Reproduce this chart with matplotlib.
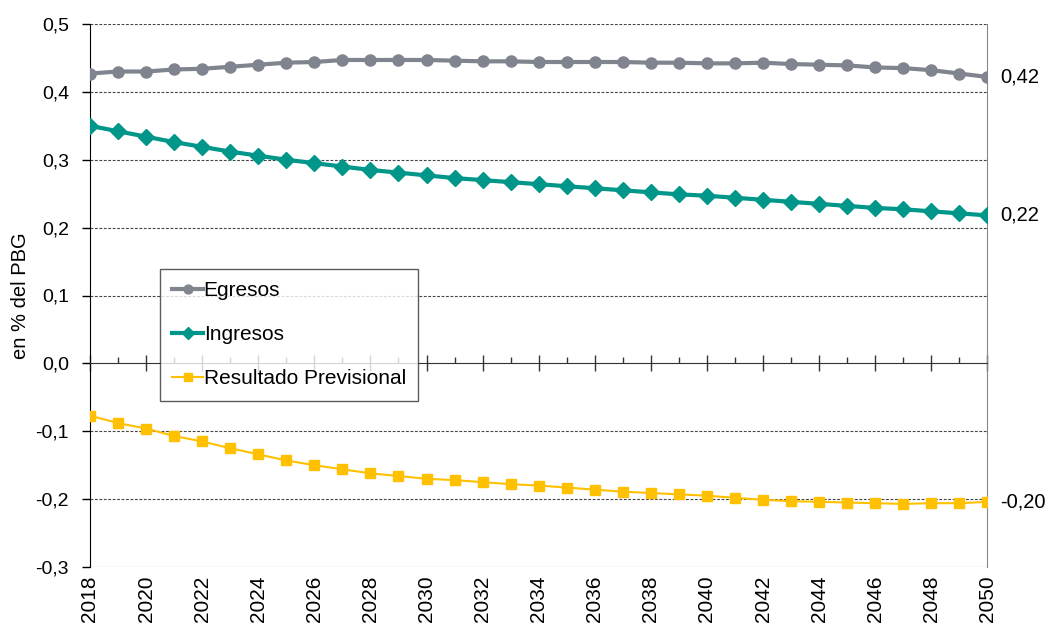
import matplotlib.pyplot as plt
import numpy as np

plt.rcParams['font.family'] = ['Liberation Sans', 'DejaVu Sans']

# --- data (en % del PBG) ---
years = np.arange(2018, 2051)

egresos = [0.427, 0.430, 0.430, 0.433, 0.434, 0.437, 0.440, 0.443, 0.444, 0.447,
           0.447, 0.447, 0.447, 0.446, 0.445, 0.445, 0.444, 0.444, 0.444, 0.444,
           0.443, 0.443, 0.442, 0.442, 0.443, 0.441, 0.440, 0.439, 0.436, 0.435,
           0.432, 0.427, 0.422]

ingresos = [0.350, 0.342, 0.334, 0.326, 0.319, 0.312, 0.306, 0.300, 0.295, 0.290,
            0.285, 0.281, 0.277, 0.273, 0.270, 0.267, 0.264, 0.261, 0.258, 0.255,
            0.252, 0.249, 0.247, 0.244, 0.241, 0.238, 0.235, 0.232, 0.229, 0.227,
            0.224, 0.221, 0.218]

resultado = [-0.077, -0.088, -0.096, -0.107, -0.115, -0.125, -0.134, -0.143, -0.150, -0.156,
             -0.162, -0.166, -0.170, -0.172, -0.175, -0.178, -0.180, -0.183, -0.186, -0.189,
             -0.191, -0.193, -0.195, -0.198, -0.201, -0.203, -0.204, -0.205, -0.206, -0.207,
             -0.206, -0.206, -0.204]

series = [
    ("Egresos", egresos, "#7f848e", "o", 8, 3.0),
    ("Ingresos", ingresos, "#00968a", "D", 8, 3.0),
    ("Resultado Previsional", resultado, "#ffc000", "s", 7.5, 1.5),
]

fig = plt.figure(figsize=(10.46, 6.25), dpi=100)
ax = fig.add_axes([0.086, 0.0928, 0.858, 0.8688])

for name, vals, col, mk, ms, lw in series:
    ax.plot(years, vals, color=col, lw=lw, marker=mk, markersize=ms,
            markeredgecolor=col, label=name, zorder=3)
    ax.text(2050.45, vals[-1], f"{vals[-1]:.2f}".replace(".", ","),
            fontsize=14.5, va="center", ha="left")

ax.set_xlim(2018, 2050)
ax.set_ylim(-0.3, 0.5)

# y axis
yt = np.round(np.arange(-0.3, 0.51, 0.1), 1)
ax.set_yticks(yt)
ax.set_yticklabels([f"{v:.1f}".replace(".", ",") for v in yt], fontsize=14)
ax.tick_params(axis="y", direction="out", length=6, width=1, color="black", pad=9)
ax.set_ylabel("en % del PBG", fontsize=14.5)
ax.yaxis.set_label_coords(-0.067, 0.5)

for v in yt:
    if v != 0:
        ax.axhline(v, color="#444444", lw=0.8, ls=(0, (2.5, 1.5)), zorder=1)

# horizontal axis drawn at zero
ax.spines["bottom"].set_position(("data", 0))
ax.spines["bottom"].set_color("#333333")
ax.spines["top"].set_visible(False)
ax.spines["right"].set_color("#888888")
ax.spines["left"].set_color("black")
ax.set_xticks(np.arange(2018, 2051, 2))
ax.set_xticks(np.arange(2019, 2051, 2), minor=True)
ax.tick_params(axis="x", which="major", direction="inout", length=11, width=1,
               color="#333333", labelbottom=False)
ax.tick_params(axis="x", which="minor", direction="in", length=4, width=1,
               color="#333333")

# year labels along the bottom edge
sec = ax.secondary_xaxis(-0.0)
sec.set_xticks(np.arange(2018, 2051, 2))
sec.set_xticklabels([str(y) for y in range(2018, 2051, 2)], rotation=90, fontsize=15)
sec.tick_params(length=0, pad=6)
sec.spines["bottom"].set_visible(False)

leg = ax.legend(loc="upper left", bbox_to_anchor=(0.078, 0.549), fontsize=15,
                frameon=True, fancybox=False, edgecolor="#333333",
                labelspacing=1.2, handlelength=1.45, handletextpad=0.05,
                borderpad=0.6, borderaxespad=0, markerscale=0.8)
leg.get_frame().set_linewidth(1.0)

plt.savefig("out.png", dpi=100)
plt.close()
